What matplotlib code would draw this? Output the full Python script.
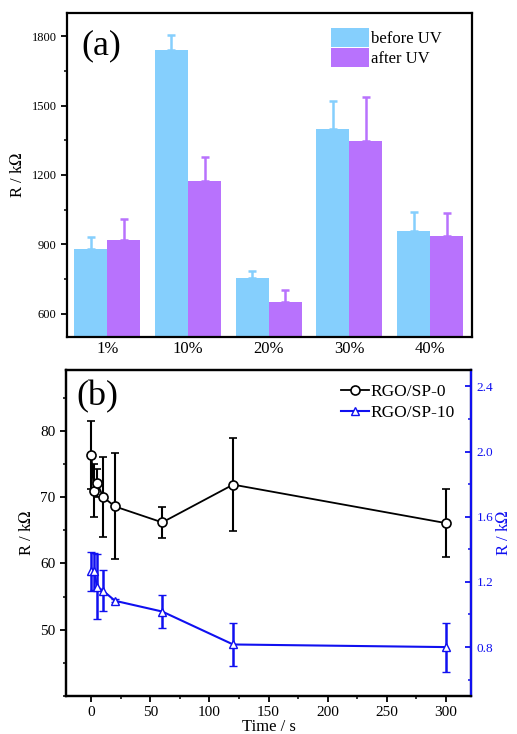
import matplotlib
matplotlib.use("Agg")
import matplotlib.pyplot as plt
import numpy as np
from matplotlib.ticker import MultipleLocator
from matplotlib.lines import Line2D

plt.rcParams['font.family'] = ['Liberation Serif', 'DejaVu Serif']
plt.rcParams['mathtext.fontset'] = 'stix'

# panel (a)
groups = ["1%", "10%", "20%", "30%", "40%"]
before_uv = [879, 1740, 753, 1400, 960]
before_err = [52, 63, 34, 119, 80]
after_uv = [919, 1174, 653, 1348, 938]
after_err = [90, 102, 48, 187, 97]

# panel (b)
t_sp0 = [0, 2, 5, 10, 20, 60, 120, 300]
r_sp0 = [76.4, 71.0, 72.1, 70.0, 68.6, 66.2, 71.9, 66.1]
e_sp0 = [5.1, 4.0, 2.1, 6.0, 8.0, 2.3, 7.0, 5.1]
t_sp10 = [0, 2, 5, 10, 20, 60, 120, 300]
r_sp10 = [1.265, 1.265, 1.17, 1.145, 1.084, 1.018, 0.816, 0.800]
e_sp10 = [0.118, 0.115, 0.20, 0.125, 0.01, 0.10, 0.13, 0.15]

c_before = "#85cffd"
c_after = "#b872fd"
blue = "#1010f0"

fig = plt.figure(figsize=(5.17, 7.34), dpi=100)

ax1 = fig.add_axes([0.1296, 0.5409, 0.7834, 0.4414])
x = np.arange(len(groups))
w = 0.41
ax1.bar(x - w / 2, before_uv, w, color=c_before, label="before UV",
        yerr=[np.zeros(5), before_err], error_kw=dict(ecolor=c_before, elinewidth=1.8, capsize=3, capthick=1.8))
ax1.bar(x + w / 2, after_uv, w, color=c_after, label="after UV",
        yerr=[np.zeros(5), after_err], error_kw=dict(ecolor=c_after, elinewidth=1.8, capsize=3, capthick=1.8))
ax1.set_ylim(500, 1900)
ax1.set_xlim(-0.5, 4.52)
ax1.set_xticks(x)
ax1.set_xticklabels(groups, fontsize=12)
ax1.tick_params(axis="x", length=0, pad=3)
ax1.yaxis.set_minor_locator(MultipleLocator(150))
ax1.set_yticks([600, 900, 1200, 1500, 1800])
ax1.tick_params(axis="y", which="major", direction="out", length=4, width=1.3, labelsize=9)
ax1.tick_params(axis="y", which="minor", direction="out", length=2.5, width=1.1)
ax1.set_ylabel("R / k$\\Omega$", fontsize=12, labelpad=4)
for s in ax1.spines.values():
    s.set_linewidth(1.6)
ax1.text(0.035, 0.95, "(a)", transform=ax1.transAxes, fontsize=26, va="top", ha="left")
ax1.legend(loc="upper right", bbox_to_anchor=(0.955, 0.99), frameon=False, fontsize=12,
           handlelength=2.3, handleheight=1.4, handletextpad=0.15, labelspacing=0.05, borderpad=0.2)

ax2 = fig.add_axes([0.1277, 0.0518, 0.7834, 0.4441])
ax3 = ax2.twinx()
ax2.errorbar(t_sp0, r_sp0, yerr=e_sp0, color="black", lw=1.3, elinewidth=1.5, capsize=3, capthick=1.5,
             marker="o", ms=6.5, mfc="white", mec="black", mew=1.2)
ax3.errorbar(t_sp10, r_sp10, yerr=e_sp10, color=blue, lw=1.5, elinewidth=1.8, capsize=3, capthick=1.8,
             marker="^", ms=6, mfc="white", mec=blue, mew=1.0)
ax2.set_xlim(-21.5, 321.5)
ax2.set_ylim(40, 89.2)
ax3.set_ylim(0.5, 2.5)
ax2.xaxis.set_major_locator(MultipleLocator(50))
ax2.xaxis.set_minor_locator(MultipleLocator(25))
ax2.yaxis.set_minor_locator(MultipleLocator(5))
ax2.set_yticks([50, 60, 70, 80])
ax3.yaxis.set_minor_locator(MultipleLocator(0.2))
ax3.set_yticks([0.8, 1.2, 1.6, 2.0, 2.4])
ax2.tick_params(which="major", direction="out", length=4, width=1.3, labelsize=11)
ax2.tick_params(which="minor", direction="out", length=2.5, width=1.1)
ax3.tick_params(which="major", direction="in", length=4, width=1.3, labelsize=9.5, colors=blue, pad=4)
ax3.tick_params(which="minor", direction="in", length=2.5, width=1.1, colors=blue)
for s in ax2.spines.values():
    s.set_linewidth(1.6)
for s in ax3.spines.values():
    s.set_linewidth(1.6)
ax3.spines["right"].set_color(blue)
ax2.set_ylabel("R / k$\\Omega$", fontsize=12, labelpad=4)
ax3.set_ylabel("R / k$\\Omega$", fontsize=12, color=blue, labelpad=2)
ax2.set_xlabel("Time / s", fontsize=12, labelpad=0)
ax2.text(0.025, 0.97, "(b)", transform=ax2.transAxes, fontsize=26, va="top", ha="left")
h0 = Line2D([], [], color="black", lw=1.3, marker="o", ms=6.5, mfc="white", mec="black", mew=1.2)
h1 = Line2D([], [], color=blue, lw=1.5, marker="^", ms=6, mfc="white", mec=blue, mew=1.0)
ax2.legend([h0, h1], ["RGO/SP-0", "RGO/SP-10"], loc="upper right", bbox_to_anchor=(0.995, 1.0),
           frameon=False, fontsize=12.5, handlelength=1.6, handletextpad=0.1, labelspacing=0.3, borderpad=0.3)

fig.savefig("out.png", dpi=100)
